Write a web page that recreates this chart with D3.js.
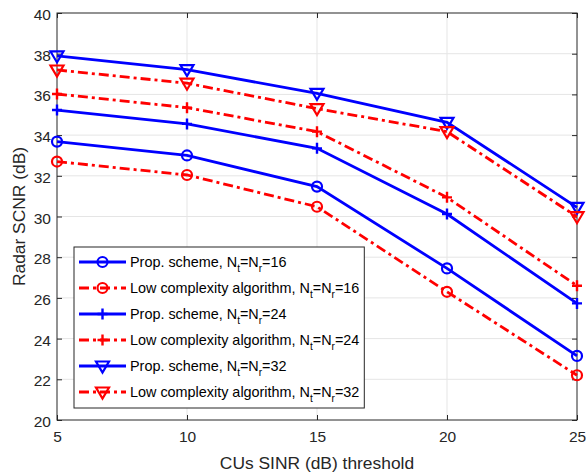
<!DOCTYPE html>
<html>
<head>
<meta charset="utf-8">
<script src="https://cdn.jsdelivr.net/npm/d3@7/dist/d3.min.js"></script>
<style>
  body { margin: 0; background: #fff; }
  svg { display: block; font-family: "Liberation Sans", Arial, sans-serif; }
</style>
</head>
<body>
<div id="chart"></div>
<script>
const WIDTH = 586, HEIGHT = 472;
const margin = { left: 57, right: 10, top: 13, bottom: 52 };

const thresholds = [5, 10, 15, 20, 25];
const xTicks = [5, 10, 15, 20, 25];
const yTicks = [20, 22, 24, 26, 28, 30, 32, 34, 36, 38, 40];

const prop16 = [33.68, 33.0, 31.47, 27.45, 23.15];
const low16  = [32.7, 32.04, 30.48, 26.3, 22.2];
const prop24 = [35.23, 34.55, 33.35, 30.12, 25.73];
const low24  = [36.02, 35.35, 34.17, 30.94, 26.6];
const prop32 = [37.89, 37.22, 36.05, 34.63, 30.45];
const low32  = [37.2, 36.55, 35.3, 34.17, 29.99];

const series = [
  { vals: prop16, label: "Prop. scheme, ", n: "16", kind: "prop", marker: "circle" },
  { vals: low16,  label: "Low complexity algorithm, ", n: "16", kind: "low", marker: "circle" },
  { vals: prop24, label: "Prop. scheme, ", n: "24", kind: "prop", marker: "plus" },
  { vals: low24,  label: "Low complexity algorithm, ", n: "24", kind: "low", marker: "plus" },
  { vals: prop32, label: "Prop. scheme, ", n: "32", kind: "prop", marker: "tri" },
  { vals: low32,  label: "Low complexity algorithm, ", n: "32", kind: "low", marker: "tri" },
];

const STYLE = {
  prop: { color: "#0000ff", dash: null },
  low:  { color: "#ff0000", dash: "10,4,3,4" },
};
const AXIS = "#262626", GRID = "#e5e5e5";

const svg = d3.select("#chart").append("svg")
  .attr("width", WIDTH).attr("height", HEIGHT);

const x = d3.scaleLinear().domain([5, 25]).range([margin.left, WIDTH - margin.right + 1]);
const y = d3.scaleLinear().domain([20, 40]).range([HEIGHT - margin.bottom, margin.top]);

// grid
svg.append("g").selectAll("line").data(xTicks.slice(1, -1)).enter().append("line")
  .attr("x1", d => x(d)).attr("x2", d => x(d))
  .attr("y1", y(20)).attr("y2", y(40))
  .attr("stroke", GRID).attr("stroke-width", 1);
svg.append("g").selectAll("line").data(yTicks.slice(1, -1)).enter().append("line")
  .attr("x1", x(5)).attr("x2", x(25))
  .attr("y1", d => y(d)).attr("y2", d => y(d))
  .attr("stroke", GRID).attr("stroke-width", 1);

// axes
function styleAxis(g) {
  g.select(".domain").remove();
  g.selectAll(".tick line").attr("stroke", AXIS);
  g.selectAll(".tick text").attr("fill", AXIS).attr("font-size", 15.5)
    .attr("font-family", "Liberation Sans, Arial, sans-serif");
}
svg.append("g").attr("transform", `translate(0,${y(20)})`)
  .call(d3.axisBottom(x).tickValues(xTicks).tickSize(-5).tickPadding(11))
  .call(styleAxis);
svg.append("g").attr("transform", `translate(0,${y(40)})`)
  .call(d3.axisTop(x).tickValues(xTicks).tickSize(-5).tickFormat(""))
  .call(styleAxis);
svg.append("g").attr("transform", `translate(${x(5)},0)`)
  .call(d3.axisLeft(y).tickValues(yTicks).tickSize(-5).tickPadding(6))
  .call(styleAxis)
  .call(g => g.selectAll(".tick text").attr("dy", "0.42em"));
svg.append("g").attr("transform", `translate(${x(25)},0)`)
  .call(d3.axisRight(y).tickValues(yTicks).tickSize(-5).tickFormat(""))
  .call(styleAxis);

svg.append("rect")
  .attr("x", x(5)).attr("y", y(40))
  .attr("width", x(25) - x(5)).attr("height", y(20) - y(40))
  .attr("fill", "none").attr("stroke", AXIS).attr("stroke-width", 1);

// labels
svg.append("text").attr("x", (x(5) + x(25)) / 2).attr("y", 469)
  .attr("text-anchor", "middle").attr("font-size", 17.4).attr("fill", AXIS)
  .text("CUs SINR (dB) threshold");
svg.append("text")
  .attr("transform", `translate(24.5,${(y(20) + y(40)) / 2}) rotate(-90)`)
  .attr("text-anchor", "middle").attr("font-size", 17.4).attr("fill", AXIS)
  .text("Radar SCNR (dB)");

// markers
function drawMarker(g, type, cx, cy, color) {
  if (type === "circle") {
    g.append("circle").attr("cx", cx).attr("cy", cy).attr("r", 5)
      .attr("fill", "none").attr("stroke", color).attr("stroke-width", 2.2);
  } else if (type === "plus") {
    g.append("path").attr("d", `M${cx - 5},${cy}H${cx + 5}M${cx},${cy - 5.5}V${cy + 5.5}`)
      .attr("stroke", color).attr("stroke-width", 2.4);
  } else {
    g.append("path").attr("d", `M${cx - 6.5},${cy - 4.5}H${cx + 6.5}L${cx},${cy + 6.5}Z`)
      .attr("fill", "none").attr("stroke", color).attr("stroke-width", 2.2)
      .attr("stroke-linejoin", "miter");
  }
}

const line = d3.line().x((d, i) => x(thresholds[i])).y(d => y(d));
const plot = svg.append("g");
series.forEach(s => {
  const st = STYLE[s.kind];
  plot.append("path").datum(s.vals).attr("d", line)
    .attr("fill", "none").attr("stroke", st.color).attr("stroke-width", 2.8)
    .attr("stroke-dasharray", st.dash);
  const mg = plot.append("g");
  s.vals.forEach((v, i) => drawMarker(mg, s.marker, x(thresholds[i]), y(v), st.color));
});

// legend
const lg = svg.append("g");
const lx = 74, ly = 247, lh = 161;
const box = lg.append("rect").attr("x", lx).attr("y", ly).attr("height", lh)
  .attr("fill", "#fff").attr("stroke", AXIS).attr("stroke-width", 1);
let maxRight = 0;
series.forEach((s, i) => {
  const st = STYLE[s.kind];
  const cy = 262 + i * 26;
  lg.append("line").attr("x1", 79).attr("x2", 126).attr("y1", cy).attr("y2", cy)
    .attr("stroke", st.color).attr("stroke-width", 2.8)
    .attr("stroke-dasharray", st.dash);
  drawMarker(lg, s.marker, 102.5, cy, st.color);
  const t = lg.append("text").attr("x", 130).attr("y", cy + 5)
    .attr("font-size", 14.4).attr("fill", "#000");
  t.append("tspan").text(s.label + "N");
  t.append("tspan").attr("font-size", 10).attr("dy", 4.5).text("t");
  t.append("tspan").attr("dy", -4.5).text("=N");
  t.append("tspan").attr("font-size", 10).attr("dy", 4.5).text("r");
  t.append("tspan").attr("dy", -4.5).text("=" + s.n);
  const b = t.node().getBBox();
  maxRight = Math.max(maxRight, b.x + b.width);
});
box.attr("width", maxRight + 5 - lx);
</script>
</body>
</html>
